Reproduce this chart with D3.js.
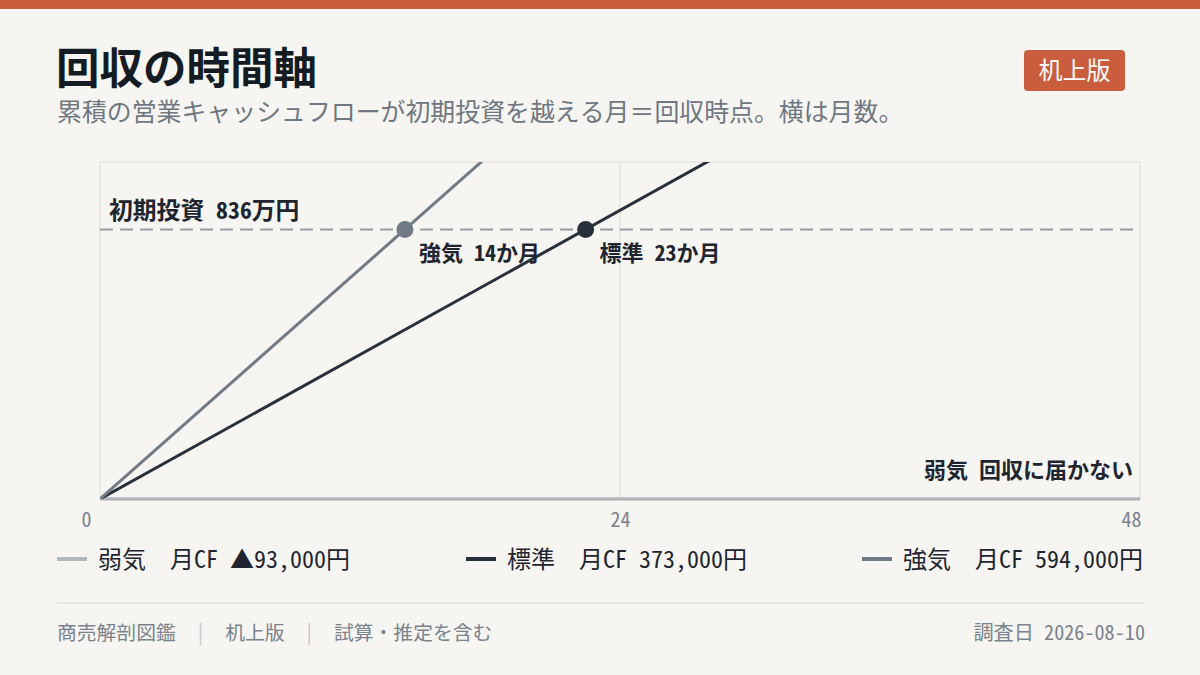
<!DOCTYPE html>
<html lang="ja">
<head>
<meta charset="utf-8">
<script src="https://cdn.jsdelivr.net/npm/d3@7"></script>
<style>
  html, body { margin: 0; padding: 0; background: #f6f5f1; }
  svg { display: block; font-family: "Noto Sans Mono CJK JP", "Noto Sans CJK JP", sans-serif; }
  svg text { white-space: pre; }
</style>
</head>
<body>
<div id="chart"></div>
<script>
// 回収の時間軸 — 月次CFの累積と初期投資の交点
var scenarios = ["弱気", "標準", "強気"];
var monthlyCF = [-93000, 373000, 594000];          // 円/月
var legendLabels = ["弱気　月CF ▲93,000円", "標準　月CF 373,000円", "強気　月CF 594,000円"];
var paybackLabels = ["弱気 回収に届かない", "標準 23か月", "強気 14か月"];
var investment = 8360000;                          // 初期投資 836万円
var monthTicks = [0, 24, 48];
var months = [0, 48];

var colors = ["#b3b8bc", "#27303b", "#707b86"];

var width = 1200, height = 675;
var margin = { top: 162, right: 60, bottom: 176, left: 100 };
var chartWidth = width - margin.left - margin.right;
var chartHeight = height - margin.top - margin.bottom;

var svg = d3.select("#chart").append("svg")
    .attr("width", width)
    .attr("height", height);

svg.append("rect").attr("width", width).attr("height", height).attr("fill", "#f6f5f1");
svg.append("rect").attr("width", width).attr("height", 9).attr("fill", "#c95d3d");

// title
svg.append("text")
    .attr("x", 56).attr("y", 84)
    .attr("font-size", 43.5).attr("font-weight", 700)
    .attr("fill", "#151b22")
    .text("回収の時間軸");

svg.append("text")
    .attr("x", 57).attr("y", 121)
    .attr("font-size", 24.9)
    .attr("fill", "#6e7782")
    .text("累積の営業キャッシュフローが初期投資を越える月＝回収時点。横は月数。");

// badge
svg.append("rect")
    .attr("x", 1024).attr("y", 50).attr("width", 101).attr("height", 41)
    .attr("rx", 4).attr("fill", "#c95d3d");
svg.append("text")
    .attr("x", 1074.5).attr("y", 79)
    .attr("text-anchor", "middle")
    .attr("font-size", 24)
    .attr("fill", "#ffffff")
    .text("机上版");

var chartGroup = svg.append("g")
    .attr("transform", `translate(${margin.left}, ${margin.top})`);

var xScale = d3.scaleLinear()
    .domain([0, 48])
    .range([0, chartWidth]);

var yScale = d3.scaleLinear()
    .domain([0, investment * 1.25])
    .range([chartHeight, 0]);

svg.append("defs").append("clipPath").attr("id", "plotClip")
    .append("rect").attr("x", 0).attr("y", 0)
    .attr("width", chartWidth).attr("height", chartHeight);

// frame + grid
chartGroup.append("rect")
    .attr("width", chartWidth).attr("height", chartHeight)
    .attr("fill", "none").attr("stroke", "#e3e1dc").attr("stroke-width", 1.2);

chartGroup.selectAll(".grid")
    .data(monthTicks.slice(1, -1))
    .enter().append("line")
    .attr("x1", d => xScale(d)).attr("x2", d => xScale(d))
    .attr("y1", 0).attr("y2", chartHeight)
    .attr("stroke", "#e3e1dc").attr("stroke-width", 1.2);

// investment line
chartGroup.append("line")
    .attr("x1", 0).attr("x2", chartWidth)
    .attr("y1", yScale(investment)).attr("y2", yScale(investment))
    .attr("stroke", "#959da6").attr("stroke-width", 2)
    .attr("stroke-dasharray", "13,7");

chartGroup.append("text")
    .attr("x", 9).attr("y", yScale(investment) - 10)
    .attr("font-size", 23.8).attr("font-weight", 700)
    .attr("fill", "#1e2530")
    .text("初期投資 836万円");

// baseline
chartGroup.append("line")
    .attr("x1", 0).attr("x2", chartWidth)
    .attr("y1", chartHeight).attr("y2", chartHeight)
    .attr("stroke", "#aab0b5").attr("stroke-width", 3);

// cumulative lines
var line = d3.line()
    .x(d => xScale(d.m))
    .y(d => yScale(Math.max(0, d.v)));

var plot = chartGroup.append("g").attr("clip-path", "url(#plotClip)");

scenarios.forEach(function(s, i) {
    var pts = months.map(m => ({ m: m, v: m * monthlyCF[i] }));
    plot.append("path")
        .datum(pts)
        .attr("d", line)
        .attr("fill", "none")
        .attr("stroke", colors[i])
        .attr("stroke-width", 3);
});

// payback points
scenarios.forEach(function(s, i) {
    if (monthlyCF[i] <= 0) {
        chartGroup.append("text")
            .attr("x", chartWidth - 7).attr("y", chartHeight - 21)
            .attr("text-anchor", "end")
            .attr("font-size", 22).attr("font-weight", 700)
            .attr("fill", "#1e2530")
            .text(paybackLabels[i]);
        return;
    }
    var m = investment / monthlyCF[i];
    chartGroup.append("circle")
        .attr("cx", xScale(m)).attr("cy", yScale(investment))
        .attr("r", 8.5)
        .attr("fill", colors[i]);
    chartGroup.append("text")
        .attr("x", xScale(m) + 14).attr("y", yScale(investment) + 32)
        .attr("font-size", 22).attr("font-weight", 700)
        .attr("fill", "#1e2530")
        .text(paybackLabels[i]);
});

// x axis
var bottomAxis = d3.axisBottom(xScale)
    .tickValues(monthTicks)
    .tickSize(0)
    .tickPadding(14);

var xAxis = chartGroup.append("g")
    .attr("transform", `translate(0, ${chartHeight})`)
    .call(bottomAxis);
xAxis.select(".domain").remove();
xAxis.selectAll("text")
    .attr("font-size", 20)
    .attr("font-family", "'Noto Sans Mono CJK JP', 'Noto Sans CJK JP', sans-serif")
    .attr("fill", "#7a838d")
    .attr("text-anchor", (d, i) => i === 0 ? "end" : (i === monthTicks.length - 1 ? "end" : "middle"))
    .attr("dx", (d, i) => i === 0 ? -9 : (i === monthTicks.length - 1 ? 1 : 0));

// legend
var legendX = [57, 466, 862];
var legend = svg.append("g");
scenarios.forEach(function(s, i) {
    var g = legend.append("g").attr("transform", `translate(${legendX[i]}, 559)`);
    g.append("line")
        .attr("x1", 0).attr("x2", 30).attr("y1", 0).attr("y2", 0)
        .attr("stroke", colors[i]).attr("stroke-width", 4);
    g.append("text")
        .attr("x", 41).attr("y", 9)
        .attr("font-size", 24)
        .attr("fill", "#1e2530")
        .text(legendLabels[i]);
});

// footer
svg.append("line")
    .attr("x1", 57).attr("x2", 1145).attr("y1", 603).attr("y2", 603)
    .attr("stroke", "#d9d8d3").attr("stroke-width", 1.2);

var footerParts = ["商売解剖図鑑", "机上版", "試算・推定を含む"];
var footer = svg.append("text")
    .attr("x", 57).attr("y", 640)
    .attr("font-size", 19.8)
    .attr("fill", "#7a838d");
footerParts.forEach(function(p, i) {
    if (i > 0) {
        footer.append("tspan").attr("fill", "#c4c6c8").text("  |  ");
    }
    footer.append("tspan").text(p);
});

svg.append("text")
    .attr("x", 1145).attr("y", 640)
    .attr("text-anchor", "end")
    .attr("font-size", 20.2)
    .attr("fill", "#7a838d")
    .text("調査日 2026-08-10");
</script>
</body>
</html>
